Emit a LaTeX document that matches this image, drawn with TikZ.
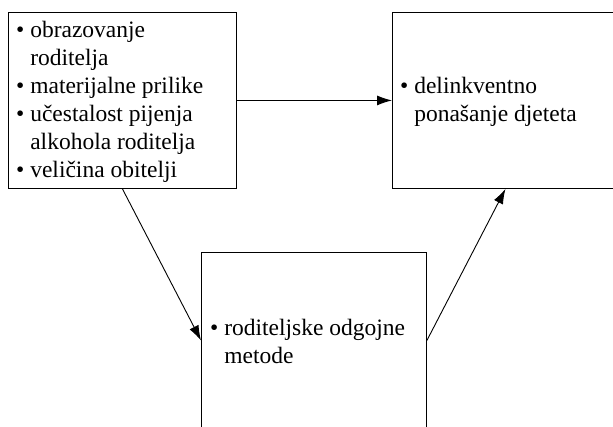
\documentclass[tikz,border=0pt]{standalone}
\usepackage{fontspec}
\setmainfont{Liberation Serif}
\usetikzlibrary{arrows.meta}

\newcommand{\stavka}{\textbullet\ }
\newcommand{\uvuci}{\hphantom{\textbullet\ }}

\begin{document}
\begin{tikzpicture}[x=1pt,y=-1pt,
		okvir/.style={draw, line width=0.9pt, minimum width=226pt, anchor=north west, inner sep=0pt},
		tekst/.style={anchor=base west, align=left, inner sep=0pt, font=\fontsize{23.5}{28}\selectfont},
		strelica/.style={line width=0.9pt, -{Latex[length=15pt,width=10pt]}}]
			\useasboundingbox (0,0) rectangle (613,426);
			\node[okvir, minimum width=228pt, minimum height=176pt] (faktori) at (8,12) {};
			\node[okvir, minimum height=176pt] (ponasanje) at (392,12) {};
			\node[okvir, minimum width=225pt, minimum height=176pt] (metode) at (201,252) {};
			% base = zadnji redak
			\node[tekst] (faktoritekst) at (16,177.5) {\stavka obrazovanje\\ \uvuci roditelja\\ \stavka materijalne prilike\\ \stavka učestalost pijenja\\ \uvuci alkohola roditelja\\ \stavka veličina obitelji};
			\node[tekst] (ponasanjetekst) at (400,121) {\stavka delinkventno\\ \uvuci ponašanje djeteta};
			\node[tekst] (metodetekst) at (210,363) {\stavka roditeljske odgojne\\ \uvuci metode};
			\draw[strelica] (faktori.east) -- (ponasanje.west);
			\draw[strelica] (faktori.south) -- (metode.west);
			\draw[strelica] (metode.east) -- (ponasanje.south);
		\end{tikzpicture}
\end{document}
